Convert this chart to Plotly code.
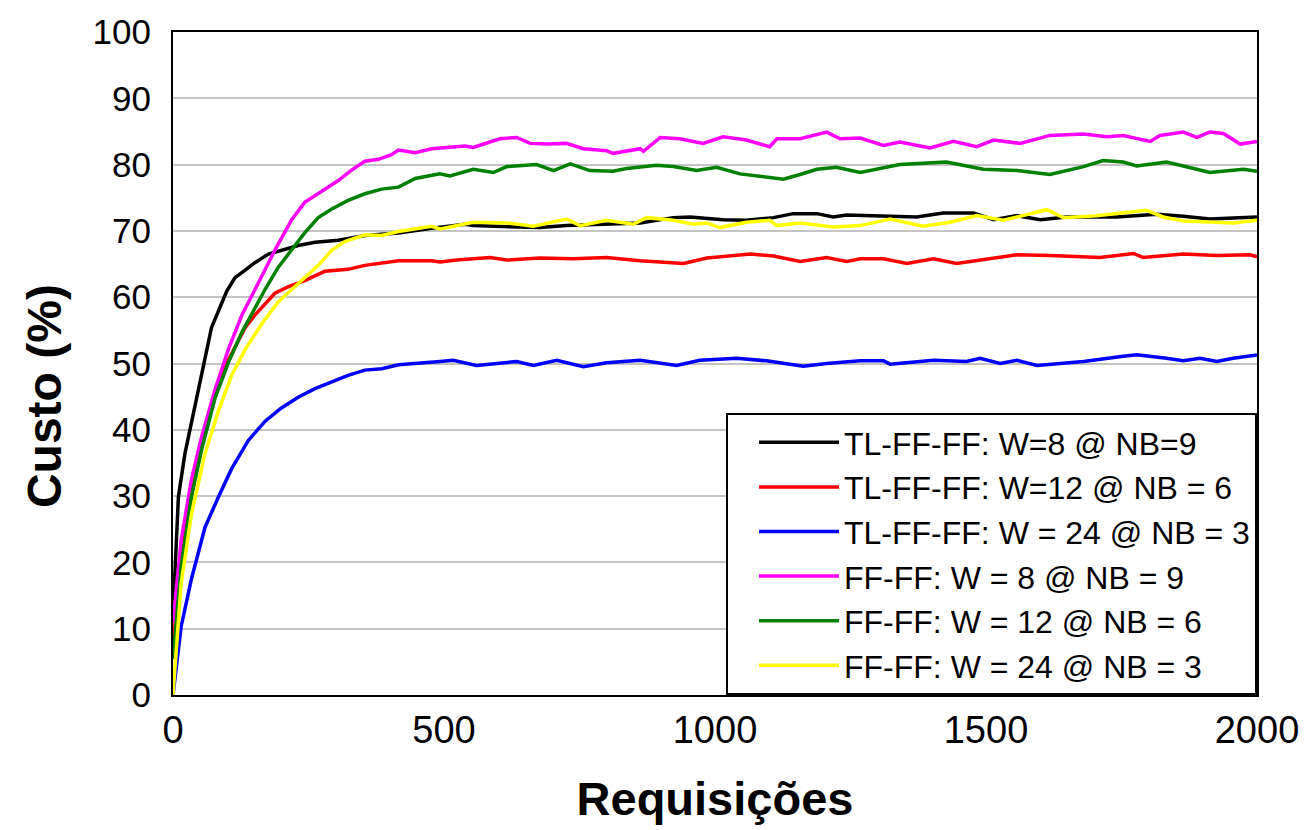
import plotly.graph_objects as go

names = [
    "TL-FF-FF: W=8 @ NB=9",
    "TL-FF-FF: W=12 @ NB = 6",
    "TL-FF-FF: W = 24 @ NB = 3",
    "FF-FF: W = 8 @ NB = 9",
    "FF-FF: W = 12 @ NB = 6",
    "FF-FF: W = 24 @ NB = 3",
]
colors = ["#000000", "#FF0000", "#0000FF", "#FF00FF", "#008000", "#FFFF00"]

x_black = [0, 10, 22, 44, 56, 71, 99, 114, 130, 151, 176, 200, 231, 262, 305, 354, 416, 477, 539,
           554, 616, 677, 726, 800, 862, 923, 954, 1015, 1058, 1108, 1144, 1188, 1218, 1243,
           1298, 1372, 1421, 1477, 1514, 1557, 1600, 1649, 1741, 1815, 1864, 1913, 2000]
y_black = [12, 29.9, 36.4, 44.9, 50.1, 55.4, 60.9, 62.9, 63.9, 65.2, 66.5, 67.1, 67.8, 68.3, 68.6, 69.3, 69.7, 70.4, 71.0,
           70.8, 70.7, 70.5, 70.8, 71.0, 71.2, 72.0, 72.1, 71.7, 71.6, 72.0, 72.6, 72.6, 72.1, 72.4,
           72.3, 72.1, 72.7, 72.7, 71.7, 72.3, 71.7, 72.1, 72.1, 72.5, 72.2, 71.8, 72.1]

x_red = [0, 15, 44, 78, 102, 133, 151, 170, 188, 213, 243, 280, 323, 354, 385, 416, 477,
         493, 523, 585, 616, 677, 738, 800, 862, 942, 985, 1034, 1065, 1108, 1157, 1206, 1243, 1268,
         1311, 1354, 1403, 1446, 1526, 1557, 1618, 1710, 1772, 1790, 1864, 1926, 1987, 2000]
y_red = [7, 21.4, 34.4, 46.0, 50.5, 55.4, 57.3, 59.0, 60.6, 61.6, 62.5, 63.9, 64.2, 64.8, 65.2, 65.5, 65.5,
         65.3, 65.6, 66.0, 65.6, 65.9, 65.8, 66.0, 65.5, 65.1, 65.9, 66.3, 66.5, 66.2, 65.4, 66.0, 65.4, 65.8,
         65.8, 65.1, 65.8, 65.1, 66.0, 66.4, 66.3, 66.0, 66.6, 66.0, 66.5, 66.3, 66.4, 66.1]

x_blue = [0, 15, 34, 59, 84, 108, 139, 170, 200, 231, 262, 293, 323, 354, 385, 416, 477,
          493, 517, 560, 634, 665, 708, 757, 800, 862, 929, 972, 1040, 1095, 1163, 1206, 1268,
          1311, 1323, 1403, 1464, 1489, 1526, 1557, 1594, 1680, 1753, 1778, 1833, 1864, 1895, 1926, 1956, 2000]
y_blue = [0, 10.3, 17.5, 25.3, 29.9, 34.1, 38.4, 41.3, 43.3, 44.9, 46.2, 47.2, 48.2, 49.0, 49.2, 49.8, 50.1,
          50.3, 50.5, 49.7, 50.3, 49.7, 50.5, 49.5, 50.1, 50.5, 49.7, 50.5, 50.8, 50.4, 49.6, 50.0, 50.4,
          50.4, 49.9, 50.5, 50.3, 50.8, 50.0, 50.5, 49.7, 50.3, 51.1, 51.3, 50.8, 50.4, 50.8, 50.3, 50.8, 51.3]

x_magenta = [0, 15, 34, 53, 78, 102, 127, 145, 164, 188, 219, 243, 274, 305, 330, 354, 379, 403, 416, 447,
             477, 508, 539, 554, 603, 634, 659, 690, 726, 757, 800, 812, 862, 868, 899, 935, 978, 1015, 1058, 1101,
             1114, 1157, 1188, 1206, 1231, 1268, 1311, 1341, 1397, 1440, 1483, 1514, 1563, 1618, 1680, 1723, 1753,
             1803, 1821, 1864, 1889, 1913, 1938, 1969, 2000]
y_magenta = [10.9, 23.3, 32.5, 39.0, 46.2, 52.1, 57.3, 60.3, 63.2, 67.1, 71.7, 74.3, 75.9, 77.6, 79.2, 80.5, 80.8, 81.5, 82.2, 81.8,
             82.4, 82.6, 82.8, 82.6, 83.9, 84.1, 83.2, 83.1, 83.2, 82.4, 82.1, 81.7, 82.4, 82.0, 84.1, 83.9, 83.2, 84.2, 83.7, 82.7,
             83.9, 83.9, 84.6, 84.9, 83.9, 84.0, 82.9, 83.4, 82.5, 83.5, 82.7, 83.7, 83.2, 84.4, 84.6, 84.2, 84.4,
             83.5, 84.4, 84.9, 84.1, 84.9, 84.7, 83.1, 83.5]

x_green = [0, 15, 34, 53, 78, 102, 127, 151, 170, 194, 219, 243, 268, 293, 323, 354, 385, 416, 447, 477,
           492, 511, 554, 591, 616, 671, 702, 733, 769, 812, 837, 892, 923, 966, 1003, 1046, 1083, 1126, 1157, 1188, 1224, 1268,
           1341, 1427, 1495, 1557, 1618, 1680, 1716, 1753, 1778, 1833, 1864, 1913, 1975, 2000]
y_green = [5.4, 19.4, 29.9, 37.1, 44.9, 50.1, 54.7, 58.3, 61.2, 64.5, 67.1, 69.7, 72.0, 73.3, 74.6, 75.6, 76.3, 76.6, 77.9, 78.4,
           78.6, 78.3, 79.3, 78.8, 79.7, 80.0, 79.1, 80.1, 79.1, 79.0, 79.4, 79.9, 79.7, 79.1, 79.6, 78.6, 78.2, 77.8, 78.5, 79.3, 79.6, 78.8,
           80.0, 80.4, 79.3, 79.1, 78.5, 79.7, 80.6, 80.4, 79.8, 80.4, 79.8, 78.8, 79.3, 79.0]

x_yellow = [0, 15, 34, 59, 84, 108, 133, 164, 194, 219, 243, 268, 293, 317, 354, 385, 416, 477,
            493, 554, 616, 665, 726, 751, 800, 849, 874, 923, 960, 985, 1009, 1058, 1101, 1114, 1157, 1218, 1268,
            1323, 1384, 1434, 1483, 1532, 1612, 1643, 1704, 1741, 1796, 1827, 1864, 1956, 2000]
y_yellow = [0, 16.8, 27.3, 36.4, 42.9, 48.2, 52.1, 56.0, 59.3, 61.2, 62.9, 64.8, 67.1, 68.4, 69.4, 69.3, 69.9, 70.7,
            70.3, 71.3, 71.2, 70.7, 71.8, 70.8, 71.6, 71.0, 72.0, 71.6, 71.0, 71.2, 70.5, 71.3, 71.6, 70.8, 71.2, 70.6, 70.8,
            71.8, 70.7, 71.3, 72.3, 71.6, 73.2, 72.0, 72.3, 72.6, 73.1, 72.1, 71.5, 71.2, 71.6]

x_ticks = [0, 500, 1000, 1500, 2000]
y_ticks = list(range(0, 101, 10))

series = [(x_black, y_black), (x_red, y_red), (x_blue, y_blue),
          (x_magenta, y_magenta), (x_green, y_green), (x_yellow, y_yellow)]

FONT = "Liberation Sans, Arial, sans-serif"

fig = go.Figure()
for (xs, ys), name, col in zip(series, names, colors):
    fig.add_trace(go.Scatter(x=xs, y=ys, mode="lines", name=name,
                             line=dict(color=col, width=3.5)))

fig.update_layout(
    width=1308, height=830,
    margin=dict(l=165, r=59, t=24, b=143),
    paper_bgcolor="white", plot_bgcolor="white",
    font=dict(family=FONT, color="black"),
    legend=dict(
        x=1, y=0, xanchor="right", yanchor="bottom",
        bgcolor="white", bordercolor="black", borderwidth=2,
        font=dict(size=32, family=FONT),
        itemwidth=80, tracegroupgap=0, indentation=26,
    ),
    xaxis=dict(
        range=[0, 2000], tickvals=x_ticks, ticks="", automargin=False,
        showgrid=False, zeroline=False,
        showline=True, linecolor="black", linewidth=2, mirror=True,
        tickfont=dict(size=38),
        title=dict(text="<b>Requisições</b>", standoff=33, font=dict(size=47)),
    ),
    yaxis=dict(
        range=[0, 100], tickvals=y_ticks, ticks="", automargin=False,
        showgrid=True, gridcolor="#C4C4C4", gridwidth=2, zeroline=False,
        showline=True, linecolor="black", linewidth=2, mirror=True,
        ticklabelstandoff=13,
        tickfont=dict(size=35),
    ),
    annotations=[dict(
        text="<b>Custo (%)</b>", textangle=-90, showarrow=False,
        xref="paper", yref="paper", x=-0.118, y=0.451,
        xanchor="center", yanchor="middle",
        font=dict(size=48, family=FONT, color="black"),
    )],
)

fig.write_html("out.html")
